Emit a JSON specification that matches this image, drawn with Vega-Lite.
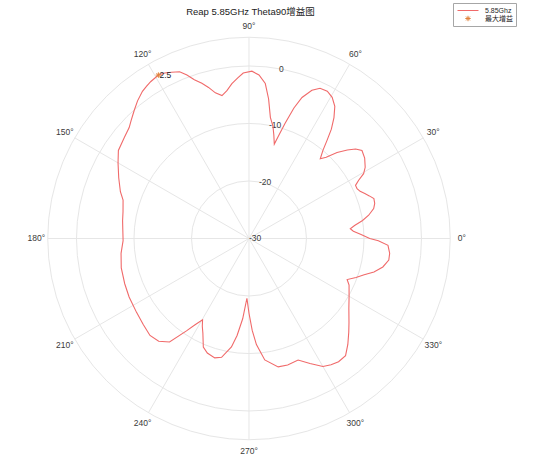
{
  "$schema": "https://vega.github.io/schema/vega-lite/v6.json",
  "width": 534,
  "height": 461,
  "autosize": {"type": "none"},
  "padding": 0,
  "background": "white",
  "title": {"text": "Reap 5.85GHz Theta90增益图", "anchor": "middle", "frame": "group", "offset": -16, "dx": -16.5, "fontSize": 9.5, "fontWeight": "normal", "font": "Liberation Sans, Noto Sans CJK SC", "color": "#222222"},
  "config": {"view": {"stroke": null}},
  "datasets": {
    "pattern": [
      {"deg":0,"db":-9.0},{"deg":2,"db":-10.5},{"deg":4,"db":-11.8},{"deg":5.5,"db":-12.3},{"deg":7,"db":-11.5},{"deg":9,"db":-10.0},{"deg":11,"db":-8.8},{"deg":13.5,"db":-7.7},{"deg":15.6,"db":-7.3},{"deg":17.7,"db":-7.2},{"deg":19.5,"db":-7.8},{"deg":21.2,"db":-8.4},{"deg":23,"db":-9.0},{"deg":24.8,"db":-9.3},{"deg":26.5,"db":-9.3},{"deg":28,"db":-8.4},{"deg":29.5,"db":-7.1},{"deg":31.5,"db":-6.3},{"deg":34.8,"db":-5.5},{"deg":37.9,"db":-5.1},{"deg":40,"db":-5.8},{"deg":42,"db":-7.0},{"deg":44.3,"db":-8.6},{"deg":46.5,"db":-10.5},{"deg":48.2,"db":-11.4},{"deg":50,"db":-10.0},{"deg":51.5,"db":-8.2},{"deg":53,"db":-6.2},{"deg":54.9,"db":-4.3},{"deg":57,"db":-2.6},{"deg":59.5,"db":-1.5},{"deg":62,"db":-1.0},{"deg":64.7,"db":-1.1},{"deg":67,"db":-2.0},{"deg":69.4,"db":-3.8},{"deg":71,"db":-6.0},{"deg":72.6,"db":-9.0},{"deg":74,"db":-11.5},{"deg":75,"db":-13.0},{"deg":76.5,"db":-11.5},{"deg":78,"db":-10.0},{"deg":80,"db":-8.6},{"deg":82,"db":-5.5},{"deg":84,"db":-2.9},{"deg":86.5,"db":-1.5},{"deg":89,"db":-0.9},{"deg":92,"db":-1.2},{"deg":94,"db":-2.0},{"deg":96.3,"db":-2.9},{"deg":98.5,"db":-4.0},{"deg":100.7,"db":-4.7},{"deg":103,"db":-4.0},{"deg":105,"db":-2.8},{"deg":106.9,"db":-1.8},{"deg":109,"db":-0.8},{"deg":110.8,"db":0.4},{"deg":112.6,"db":1.4},{"deg":115,"db":1.9},{"deg":117,"db":2.3},{"deg":119,"db":2.5},{"deg":122,"db":2.2},{"deg":124,"db":1.9},{"deg":125.9,"db":1.6},{"deg":129,"db":0.8},{"deg":131.9,"db":-0.1},{"deg":135,"db":-1.0},{"deg":137.2,"db":-1.6},{"deg":141,"db":-2.1},{"deg":146,"db":-2.6},{"deg":150,"db":-3.7},{"deg":155,"db":-5.0},{"deg":160,"db":-6.2},{"deg":163,"db":-7.1},{"deg":168,"db":-7.6},{"deg":172,"db":-7.8},{"deg":176,"db":-8.0},{"deg":181,"db":-8.1},{"deg":186.6,"db":-7.6},{"deg":193,"db":-7.2},{"deg":200,"db":-7.0},{"deg":206,"db":-6.8},{"deg":213.3,"db":-6.6},{"deg":219,"db":-6.3},{"deg":224.4,"db":-5.9},{"deg":228.7,"db":-6.2},{"deg":232.5,"db":-7.3},{"deg":235.9,"db":-10.6},{"deg":238,"db":-12.3},{"deg":240.3,"db":-13.7},{"deg":242,"db":-12.7},{"deg":244,"db":-11.7},{"deg":247.2,"db":-9.5},{"deg":250,"db":-8.8},{"deg":254,"db":-8.4},{"deg":257,"db":-8.8},{"deg":260.8,"db":-10.9},{"deg":263,"db":-13.0},{"deg":265.5,"db":-16.0},{"deg":268,"db":-19.6},{"deg":270,"db":-17.0},{"deg":272,"db":-14.0},{"deg":274,"db":-11.5},{"deg":277.4,"db":-8.7},{"deg":282.8,"db":-7.1},{"deg":287,"db":-7.0},{"deg":292,"db":-7.2},{"deg":296,"db":-5.8},{"deg":300,"db":-4.3},{"deg":303,"db":-3.8},{"deg":306,"db":-3.5},{"deg":309.5,"db":-3.6},{"deg":313,"db":-4.8},{"deg":316.8,"db":-6.2},{"deg":320,"db":-7.3},{"deg":325,"db":-8.8},{"deg":330,"db":-9.9},{"deg":335,"db":-10.8},{"deg":337.3,"db":-11.5},{"deg":340,"db":-10.2},{"deg":342.5,"db":-9.0},{"deg":345,"db":-7.5},{"deg":348,"db":-6.2},{"deg":351.2,"db":-5.4},{"deg":354,"db":-5.4},{"deg":357.2,"db":-5.8},{"deg":359,"db":-7.5},{"deg":360,"db":-9.0}
    ],
    "rings": [{"db": -20}, {"db": -10}, {"db": 0}, {"db": 5}],
    "spokes": [{"deg":0},{"deg":30},{"deg":60},{"deg":90},{"deg":120},{"deg":150},{"deg":180},{"deg":210},{"deg":240},{"deg":270},{"deg":300},{"deg":330}],
    "rticks": [{"db": -30}, {"db": -20}, {"db": -10}, {"db": 0}],
    "peak": [{"deg": 119, "db": 2.5, "label": "2.5", "series": "最大增益"}]
  },
  "layer": [
    {
      "data": {"name": "rings"},
      "transform": [{"calculate": "datum.db + 30", "as": "r"}, {"calculate": "0", "as": "o"}],
      "mark": {"type": "point", "shape": "circle", "filled": false, "stroke": "#e6e6e6", "strokeWidth": 1, "opacity": 1},
      "encoding": {
        "x": {"field": "o", "type": "quantitative", "scale": {"domain": [-43.304, 49.565], "nice": false, "zero": false}, "axis": null},
        "y": {"field": "o", "type": "quantitative", "scale": {"domain": [-38.696, 41.478], "nice": false, "zero": false}, "axis": null},
        "size": {"field": "r", "type": "quantitative", "scale": {"type": "pow", "exponent": 2, "domain": [0, 35], "range": [0, 162006]}, "legend": null}
      }
    },
    {
      "data": {"name": "spokes"},
      "transform": [
        {"calculate": "35 * cos(datum.deg * PI / 180)", "as": "ex"},
        {"calculate": "35 * sin(datum.deg * PI / 180)", "as": "ey"},
        {"calculate": "0", "as": "o"}
      ],
      "mark": {"type": "rule", "stroke": "#e6e6e6", "strokeWidth": 1},
      "encoding": {
        "x": {"field": "o", "type": "quantitative"},
        "y": {"field": "o", "type": "quantitative"},
        "x2": {"field": "ex"},
        "y2": {"field": "ey"}
      }
    },
    {
      "data": {"name": "spokes"},
      "transform": [
        {"calculate": "37 * cos(datum.deg * PI / 180)", "as": "lx"},
        {"calculate": "37 * sin(datum.deg * PI / 180)", "as": "ly"},
        {"calculate": "datum.deg + '°'", "as": "lab"}
      ],
      "mark": {"type": "text", "align": "center", "baseline": "middle", "fontSize": 8.5, "font": "Liberation Sans", "color": "#3a3a3a"},
      "encoding": {
        "x": {"field": "lx", "type": "quantitative"},
        "y": {"field": "ly", "type": "quantitative"},
        "text": {"field": "lab", "type": "nominal"}
      }
    },
    {
      "data": {"name": "rticks"},
      "transform": [
        {"calculate": "(datum.db + 30) * cos(80 * PI / 180)", "as": "rx"},
        {"calculate": "(datum.db + 30) * sin(80 * PI / 180)", "as": "ry"},
        {"calculate": "'' + datum.db", "as": "lab"}
      ],
      "mark": {"type": "text", "align": "left", "baseline": "middle", "dx": 0, "fontSize": 8.5, "font": "Liberation Sans", "color": "#3a3a3a"},
      "encoding": {
        "x": {"field": "rx", "type": "quantitative"},
        "y": {"field": "ry", "type": "quantitative"},
        "text": {"field": "lab", "type": "nominal"}
      }
    },
    {
      "data": {"name": "pattern"},
      "transform": [
        {"calculate": "(datum.db + 30) * cos(datum.deg * PI / 180)", "as": "px"},
        {"calculate": "(datum.db + 30) * sin(datum.deg * PI / 180)", "as": "py"}
      ],
      "mark": {"type": "line", "color": "#f06a6a", "strokeWidth": 1.1, "interpolate": "linear"},
      "encoding": {
        "x": {"field": "px", "type": "quantitative"},
        "y": {"field": "py", "type": "quantitative"},
        "order": {"field": "deg", "type": "quantitative"}
      }
    },
    {
      "data": {"name": "peak"},
      "transform": [
        {"calculate": "(datum.db + 30) * cos(datum.deg * PI / 180)", "as": "px"},
        {"calculate": "(datum.db + 30) * sin(datum.deg * PI / 180)", "as": "py"}
      ],
      "mark": {"type": "point", "filled": false, "strokeWidth": 1, "opacity": 1, "size": 81},
      "encoding": {
        "x": {"field": "px", "type": "quantitative"},
        "y": {"field": "py", "type": "quantitative"},
        "color": {"field": "series", "type": "nominal", "scale": {"domain": ["5.85Ghz", "最大增益"], "range": ["#f06a6a", "#e0823c"]},
          "legend": {"title": null, "orient": "none", "legendX": 453, "legendY": 3, "padding": 2.5, "rowPadding": 0, "strokeColor": "#a6a6a6", "fillColor": "white", "symbolSize": 81, "symbolStrokeWidth": 1, "symbolOffset": 7.5, "labelOffset": 12, "labelFontSize": 7, "labelFont": "Liberation Sans, Noto Sans CJK SC", "labelColor": "#262626"}},
        "shape": {"field": "series", "type": "nominal", "scale": {"domain": ["5.85Ghz", "最大增益"], "range": ["M-2.33,0H2.33", "M0,-0.6V0.6M-0.6,0H0.6M-0.42,-0.42L0.42,0.42M-0.42,0.42L0.42,-0.42"]},
          "legend": {"title": null, "orient": "none", "legendX": 453, "legendY": 3, "padding": 2.5, "rowPadding": 0, "strokeColor": "#a6a6a6", "fillColor": "white", "symbolSize": 81, "symbolStrokeWidth": 1, "symbolOffset": 7.5, "labelOffset": 12, "labelFontSize": 7, "labelFont": "Liberation Sans, Noto Sans CJK SC", "labelColor": "#262626"}}
      }
    },
    {
      "data": {"name": "peak"},
      "transform": [
        {"calculate": "(datum.db + 30) * cos(datum.deg * PI / 180)", "as": "px"},
        {"calculate": "(datum.db + 30) * sin(datum.deg * PI / 180)", "as": "py"}
      ],
      "mark": {"type": "text", "align": "left", "baseline": "middle", "dx": 1, "fontSize": 8.5, "font": "Liberation Sans", "color": "#262626"},
      "encoding": {
        "x": {"field": "px", "type": "quantitative"},
        "y": {"field": "py", "type": "quantitative"},
        "text": {"field": "label", "type": "nominal"}
      }
    }
  ]
}
